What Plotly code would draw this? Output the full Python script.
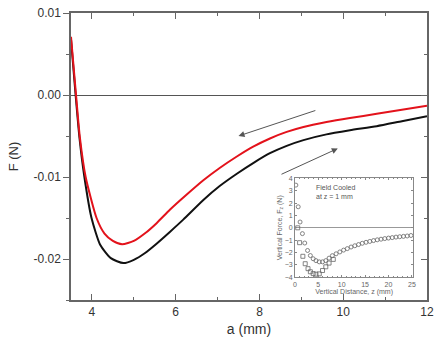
import plotly.graph_objects as go

# Main curves: a (mm) vs F (N)
a_red = [3.5, 3.62, 3.71, 3.85, 4.11, 4.3, 4.5, 4.72, 5.0, 5.26, 5.55, 5.86, 6.25, 6.66, 7.05, 7.46, 7.85, 8.25, 8.65, 9.05, 9.6, 10.16, 10.8, 11.4, 12.0]
F_red = [0.0071, 0.0, -0.0051, -0.0100, -0.0150, -0.0169, -0.0178, -0.0182, -0.0178, -0.0169, -0.0156, -0.0140, -0.0122, -0.0104, -0.0089, -0.0075, -0.0063, -0.0053, -0.0045, -0.0039, -0.0033, -0.0028, -0.0023, -0.0018, -0.0013]
a_black = [3.5, 3.61, 3.70, 3.82, 3.99, 4.2, 4.45, 4.75, 5.0, 5.26, 5.55, 5.86, 6.18, 6.66, 7.05, 7.46, 7.85, 8.25, 8.65, 9.05, 9.6, 10.16, 10.8, 11.4, 12.0]
F_black = [0.0068, 0.0, -0.0051, -0.0100, -0.0150, -0.0183, -0.0199, -0.0205, -0.0201, -0.0193, -0.0181, -0.0167, -0.0152, -0.0128, -0.0111, -0.0096, -0.0083, -0.0071, -0.0062, -0.0055, -0.0048, -0.0043, -0.0038, -0.0032, -0.0026]

# Inset: vertical force vs vertical distance
z_circ = [0.2, 0.7, 1.1, 1.6, 2.1, 2.7, 3.3, 3.9, 4.5, 5.2, 5.9, 6.6, 7.3, 8.0, 8.8, 9.6, 10.4, 11.2, 12.0, 12.8, 13.6, 14.4, 15.2, 16.0, 16.8, 17.6, 18.4, 19.2, 20.0, 20.8, 21.6, 22.4, 23.2, 24.0, 24.8]
F_circ = [3.45, 1.7, 0.47, -0.47, -1.23, -1.83, -2.24, -2.5, -2.65, -2.75, -2.75, -2.65, -2.45, -2.25, -2.1, -1.95, -1.8, -1.68, -1.55, -1.45, -1.35, -1.25, -1.17, -1.1, -1.03, -0.97, -0.92, -0.87, -0.83, -0.79, -0.75, -0.72, -0.69, -0.66, -0.62]
z_sq = [0.6, 1.0, 1.7, 2.2, 2.8, 3.3, 3.9, 4.5, 5.2, 5.9, 6.6, 7.3, 8.2]
F_sq = [0.0, -1.2, -2.3, -2.9, -3.3, -3.55, -3.7, -3.75, -3.72, -3.45, -3.15, -2.85, -2.55]

x_ticks = [4, 6, 8, 10, 12]
y_ticks = [0.01, 0.0, -0.01, -0.02]
y_tick_text = ["0.01", "0.00", "-0.01", "-0.02"]

fig = go.Figure()
fig.add_trace(go.Scatter(x=a_black, y=F_black, mode="lines", line=dict(color="#111111", width=2, shape="spline", smoothing=0.6), showlegend=False))
fig.add_trace(go.Scatter(x=a_red, y=F_red, mode="lines", line=dict(color="#e3121b", width=2, shape="spline", smoothing=0.6), showlegend=False))
# dummy for right axis
fig.add_trace(go.Scatter(x=[3.5], y=[0], xaxis="x", yaxis="y3", mode="markers", marker=dict(opacity=0), showlegend=False, hoverinfo="skip"))

# inset
fig.add_trace(go.Scatter(x=z_circ, y=F_circ, xaxis="x2", yaxis="y2", mode="markers",
                         marker=dict(symbol="circle-open", size=4, color="#666666", line=dict(width=0.8)), showlegend=False))
fig.add_trace(go.Scatter(x=z_sq, y=F_sq, xaxis="x2", yaxis="y2", mode="markers",
                         marker=dict(symbol="square-open", size=4, color="#666666", line=dict(width=0.8)), showlegend=False))

axcol = "#666666"
fig.update_layout(
    width=447, height=347,
    margin=dict(l=71, r=20, t=13, b=47, autoexpand=False),
    paper_bgcolor="white", plot_bgcolor="white",
    font=dict(family="Liberation Sans, Arial, sans-serif", color="#333333"),
    xaxis=dict(range=[3.5, 12], tickvals=x_ticks, ticks="inside", ticklen=6, tickwidth=1.2, tickcolor=axcol,
               minor=dict(dtick=1, tick0=0, ticks="inside", ticklen=3, tickcolor=axcol),
               showline=True, linecolor=axcol, linewidth=1.5, mirror="ticks", showgrid=False, zeroline=False,
               automargin=True, tickfont=dict(size=12), title=dict(text="a (mm)", font=dict(size=14), standoff=6)),
    yaxis=dict(range=[-0.025, 0.01], tickvals=y_ticks, ticktext=y_tick_text, ticks="outside", ticklen=6, tickwidth=1.2, tickcolor=axcol,
               minor=dict(dtick=0.005, tick0=0, ticks="outside", ticklen=3, tickcolor=axcol),
               showline=True, linecolor=axcol, linewidth=1.5, mirror=False, showgrid=False,
               zeroline=True, zerolinecolor="#555555", zerolinewidth=1.2, automargin=True,
               tickfont=dict(size=12), title=dict(text="F (N)", font=dict(size=13), standoff=12)),
    yaxis3=dict(range=[-0.025, 0.01], overlaying="y", side="right", tickvals=y_ticks, ticks="inside", ticklen=6, tickwidth=1.2,
                tickcolor=axcol, minor=dict(dtick=0.005, tick0=0, ticks="inside", ticklen=3, tickcolor=axcol),
                showticklabels=False, showline=True, linecolor=axcol, linewidth=1.5, showgrid=False, zeroline=False, automargin=False),
    xaxis2=dict(domain=[0.629, 0.9615], anchor="y2", range=[0, 25.3], tickvals=[0, 5, 10, 15, 20, 25], ticks="inside", ticklen=2,
                tickcolor="#888888", minor=dict(dtick=1, ticks="inside", ticklen=1, tickcolor="#888888"),
                showline=True, linecolor="#888888", linewidth=0.8, mirror="ticks", showgrid=False, zeroline=False,
                automargin=False, tickfont=dict(size=7, color="#666666"),
                title=dict(text="Vertical Distance, z (mm)", font=dict(size=7, color="#666666"), standoff=1)),
    yaxis2=dict(domain=[0.079, 0.424], anchor="x2", range=[-4, 4], tickvals=[-4, -3, -2, -1, 0, 1, 2, 3, 4], ticks="inside", ticklen=2,
                tickcolor="#888888", showline=True, linecolor="#888888", linewidth=0.8, mirror="ticks", showgrid=False,
                zeroline=True, zerolinecolor="#999999", zerolinewidth=1, automargin=False,
                tickfont=dict(size=7, color="#666666"),
                title=dict(text="Vertical Force, F<sub>z</sub> (N)", font=dict(size=7, color="#666666"), standoff=1)),
    annotations=[
        dict(x=7.5, y=-0.0050, ax=9.37, ay=-0.00183, xref="x", yref="y", axref="x", ayref="y",
             showarrow=True, arrowhead=2, arrowsize=1.2, arrowwidth=1, arrowcolor="#555555", text=""),
        dict(x=9.87, y=-0.00652, ax=8.49, ay=-0.00975, xref="x", yref="y", axref="x", ayref="y",
             showarrow=True, arrowhead=2, arrowsize=1.2, arrowwidth=1, arrowcolor="#555555", text=""),
        dict(x=4, y=3.7, xref="x2", yref="y2", xanchor="left", yanchor="top", showarrow=False,
             text="Field Cooled<br>at z = 1 mm", align="left", font=dict(size=7, color="#555555")),
    ],
)

fig.write_html("out.html", config={"displayModeBar": False},
               post_script="document.body.style.margin='0px';document.body.style.overflow='hidden';")
